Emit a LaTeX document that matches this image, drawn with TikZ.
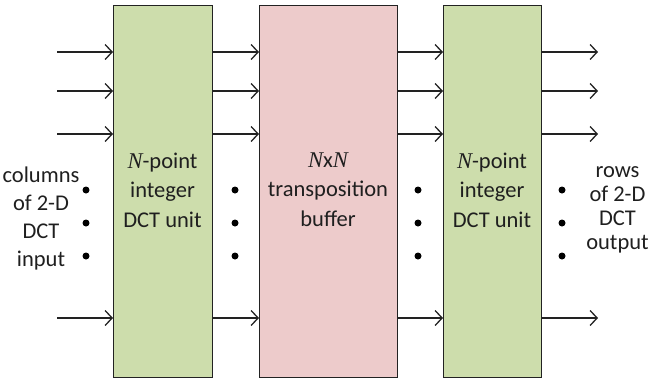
\documentclass[tikz,border=0pt]{standalone}
\usepackage{fontspec}
\setmainfont{Carlito}
\newfontfamily\timesit{Liberation Serif}[UprightFont=*-Italic]
\usetikzlibrary{arrows.meta}
\definecolor{boxgreen}{HTML}{CDDDAC}
\definecolor{boxpink}{HTML}{EDCBCB}
\definecolor{edge}{HTML}{222222}
\newcommand{\Nv}{{\timesit N}}
\tikzset{
  blk/.style={draw=edge, line width=1.3pt, inner sep=0pt, anchor=north west},
  arr/.style={draw=edge, line width=1.3pt, -{Straight Barb[length=7pt,width=15pt,line width=1.3pt]}},
  lbl/.style={align=center, inner sep=0pt, text=black!88, font=\fontsize{22.5}{29.5}\selectfont},
  dot/.style={circle, fill=black, inner sep=0pt, minimum size=7pt}
}
\begin{document}
\begin{tikzpicture}[x=1pt,y=-1pt]
\useasboundingbox (0,0) rectangle (649,383);
% boxes
\node[blk, fill=boxgreen, minimum width=99pt, minimum height=372pt] (b1) at (113,5) {};
\node[blk, fill=boxpink, minimum width=138pt, minimum height=372pt] (b2) at (259,5) {};
\node[blk, fill=boxgreen, minimum width=98pt, minimum height=372pt] (b3) at (443,5) {};
% box texts (anchor base = baseline of last line)
\node[lbl, anchor=base] (t1) at (162.5,227) {\Nv-point\\integer\\DCT unit};
\node[lbl, anchor=base] (t2) at (328,226) {\Nv x\Nv\\transposition\\buffer};
\node[lbl, anchor=base] (t3) at (492,227) {\Nv-point\\integer\\DCT unit};
% side texts
\node[lbl, anchor=base, font=\fontsize{22.5}{28}\selectfont] (tin) at (41,266) {columns\\of 2-D\\DCT\\input};
\node[lbl, anchor=base, font=\fontsize{22.5}{24}\selectfont] (tout) at (617.5,249) {rows\\of 2-D\\DCT\\output};
% arrow start/end coordinates
\foreach \i/\y in {1/52,2/91,3/134,4/318}{
  \coordinate (in\i) at (57,\y);
  \coordinate (out\i) at (598,\y);
  \draw[arr] (in\i) -- (in\i -| b1.west);
  \draw[arr] (in\i -| b1.east) -- (in\i -| b2.west);
  \draw[arr] (in\i -| b2.east) -- (in\i -| b3.west);
  \draw[arr] (in\i -| b3.east) -- (out\i);
}
% dots
\foreach \x/\n in {86/a,235/b,418/c,562/d}{
  \node[dot] (d\n1) at (\x,190) {};
  \node[dot] (d\n2) at (\x,223) {};
  \node[dot] (d\n3) at (\x,256) {};
}
\end{tikzpicture}
\end{document}
